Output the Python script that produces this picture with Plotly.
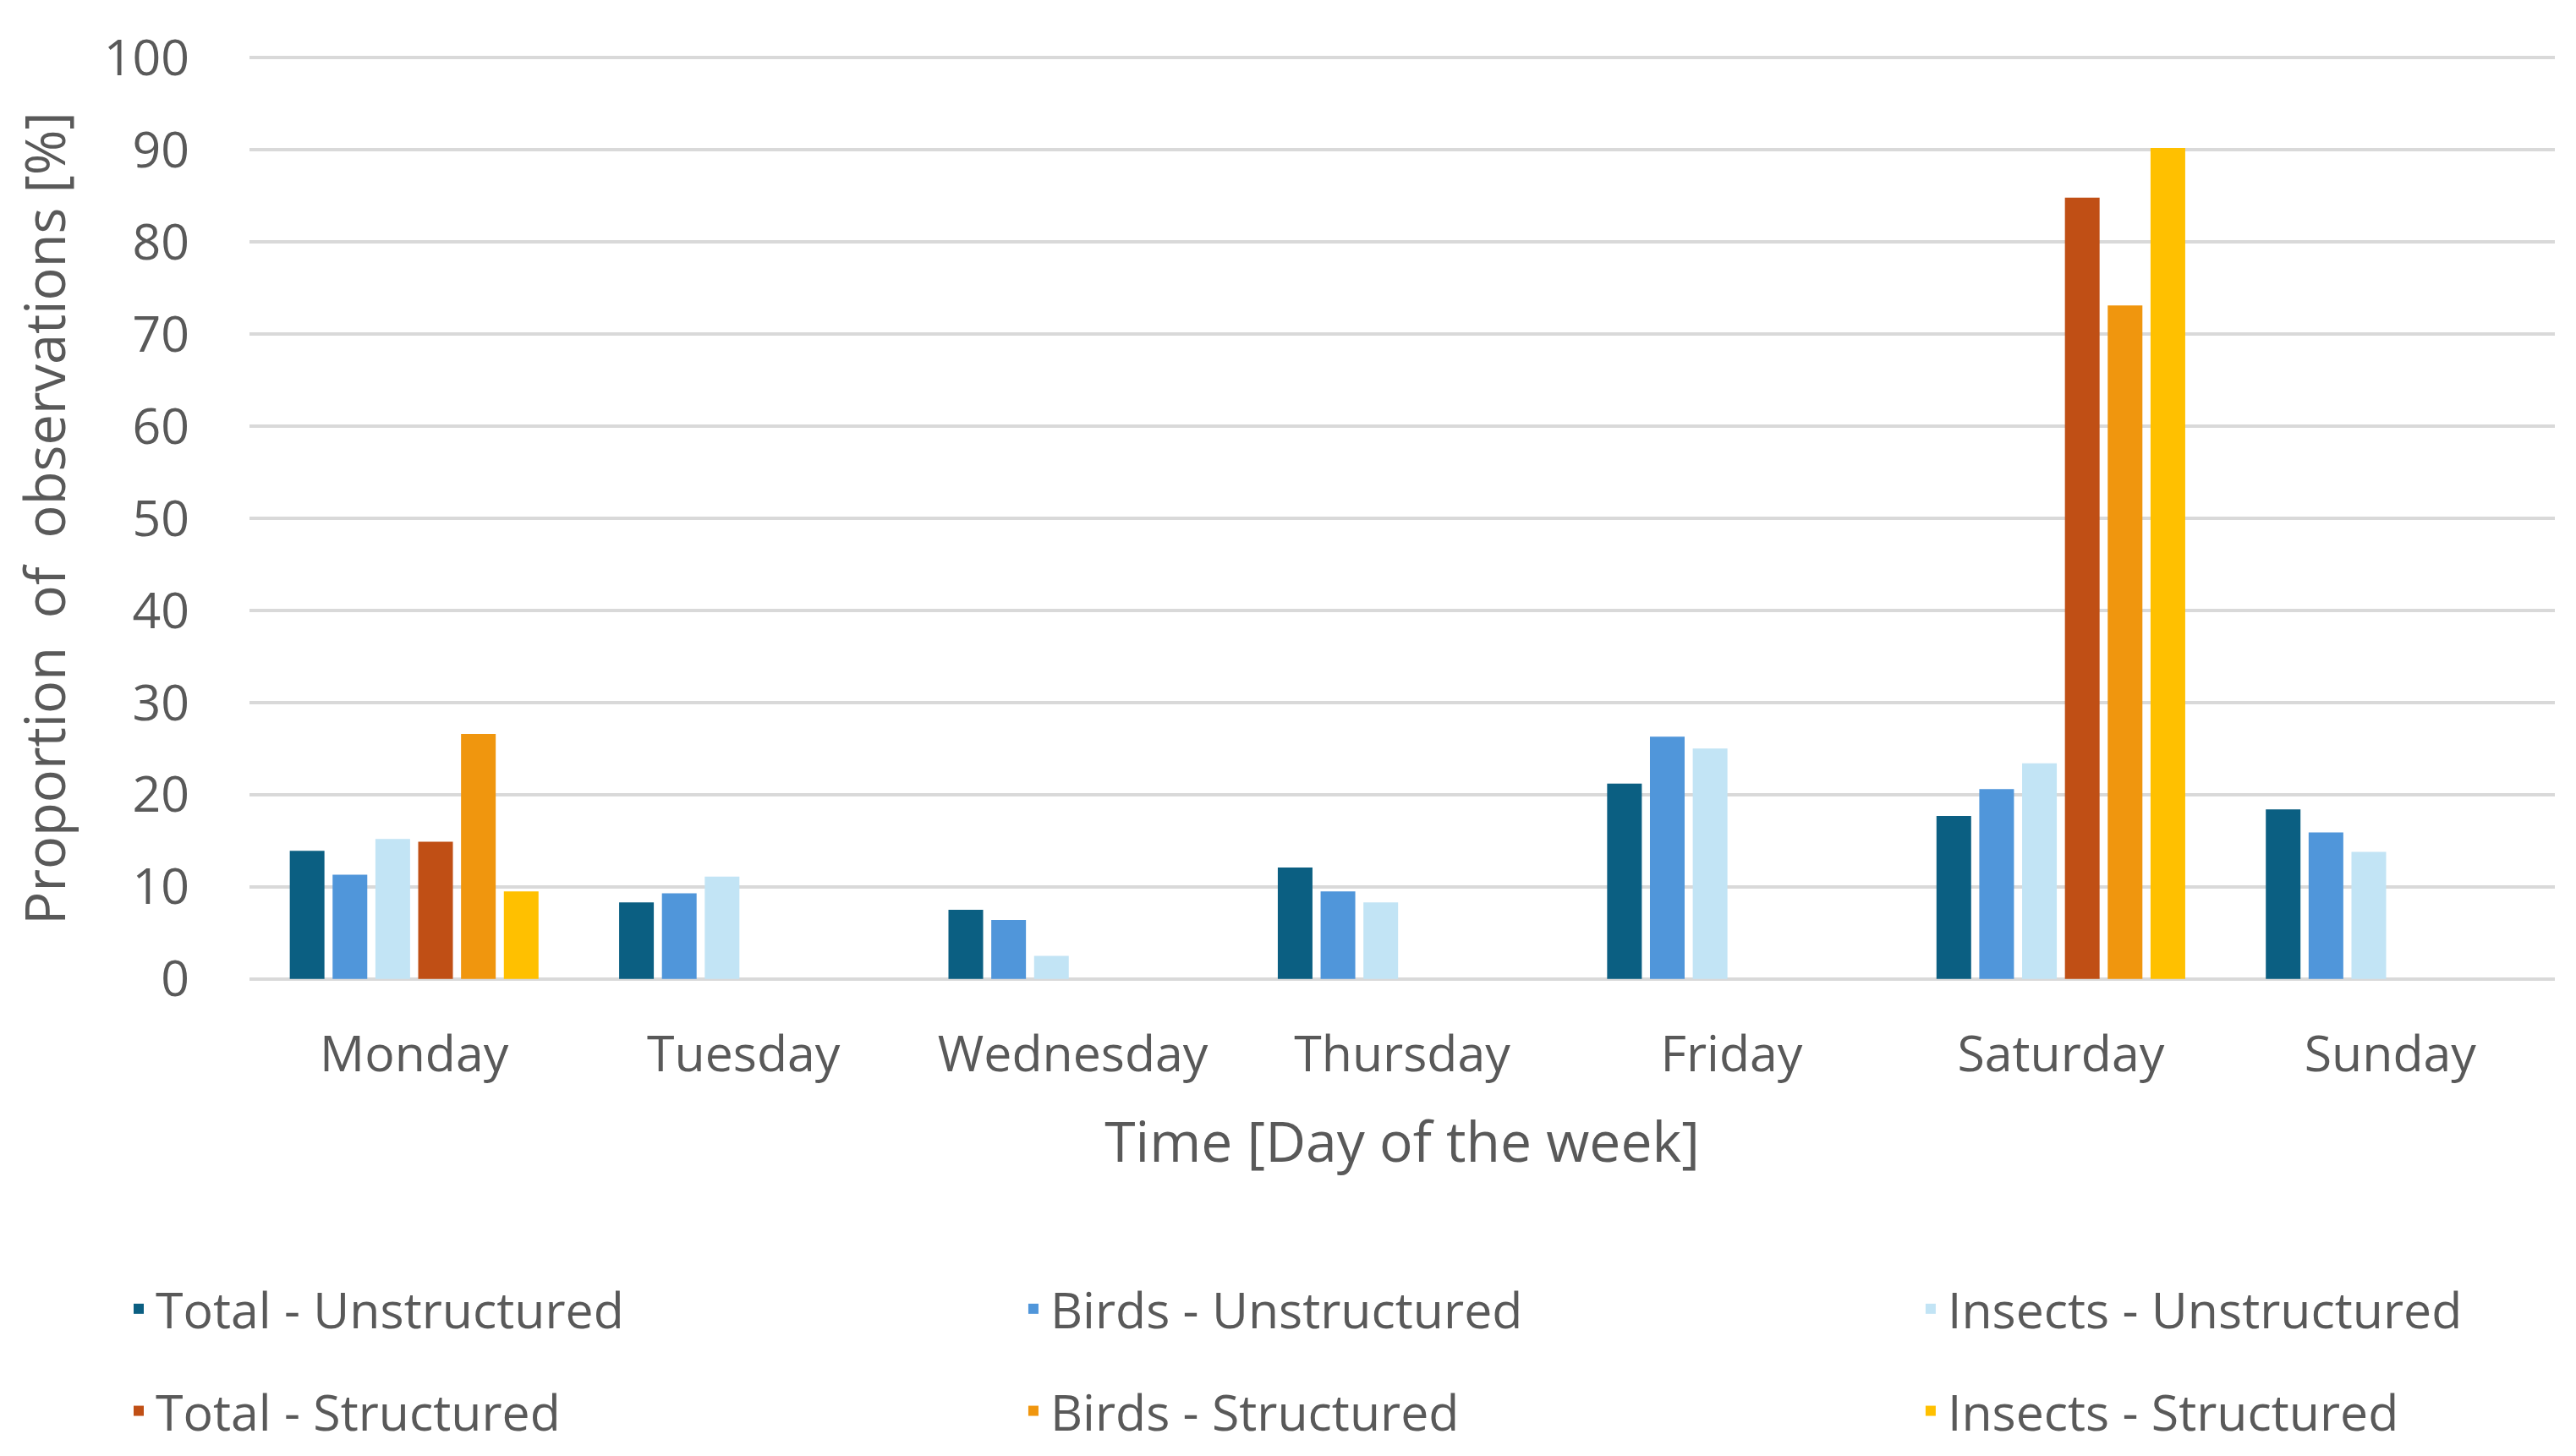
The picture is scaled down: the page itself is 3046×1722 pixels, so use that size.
import plotly.graph_objects as go

days = ["Monday", "Tuesday", "Wednesday", "Thursday", "Friday", "Saturday", "Sunday"]

total_unstructured = [13.9, 8.3, 7.5, 12.1, 21.2, 17.7, 18.4]
birds_unstructured = [11.3, 9.3, 6.4, 9.5, 26.3, 20.6, 15.9]
insects_unstructured = [15.2, 11.1, 2.5, 8.3, 25.0, 23.4, 13.8]
total_structured = [14.9, None, None, None, None, 84.8, None]
birds_structured = [26.6, None, None, None, None, 73.1, None]
insects_structured = [9.5, None, None, None, None, 90.2, None]

# one legend per column (Total / Birds / Insects), Unstructured on top
series = [
    ("Total - Unstructured", total_unstructured, "#0B5F82", "legend"),
    ("Birds - Unstructured", birds_unstructured, "#5096DA", "legend2"),
    ("Insects - Unstructured", insects_unstructured, "#C2E4F5", "legend3"),
    ("Total - Structured", total_structured, "#C04F15", "legend"),
    ("Birds - Structured", birds_structured, "#F0960E", "legend2"),
    ("Insects - Structured", insects_structured, "#FFC000", "legend3"),
]

FONT = "Open Sans"
GREY = "#595959"

fig = go.Figure()
for name, vals, color, leg in series:
    fig.add_trace(go.Bar(
        x=days, y=vals, name=name,
        marker=dict(color=color, line=dict(width=0)),
        legend=leg, legendgroup=name,
    ))

legend_common = dict(
    orientation="v",
    y=-0.4083, yanchor="middle",
    xanchor="left",
    tracegroupgap=41,
    font=dict(family=FONT, size=59, color=GREY),
    bgcolor="rgba(0,0,0,0)",
    itemclick=False,
)

fig.update_layout(
    width=3046, height=1722,
    barmode="group",
    bargap=0.22,
    bargroupgap=0.19,
    plot_bgcolor="white",
    paper_bgcolor="white",
    font=dict(family=FONT, size=59, color=GREY),
    margin=dict(l=287, r=33, t=57, b=569),
    legend=dict(x=-0.0554, **legend_common),
    legend2=dict(x=0.3327, **legend_common),
    legend3=dict(x=0.7219, **legend_common),
)

fig.update_yaxes(
    range=[-0.3, 100.3], tickvals=list(range(0, 101, 10)),
    showgrid=True, gridcolor="#D9D9D9", gridwidth=4,
    zeroline=False, showline=False,
    ticks="", ticklabelstandoff=70,
    tickfont=dict(family=FONT, size=59, color=GREY),
    title=dict(text="Proportion  of  observations [%]",
               font=dict(family=FONT, size=65, color=GREY), standoff=40),
)
fig.update_xaxes(
    showgrid=False, zeroline=False, showline=False,
    ticks="", ticklabelstandoff=46,
    tickfont=dict(family=FONT, size=59, color=GREY),
    title=dict(text="Time [Day of the week]",
               font=dict(family=FONT, size=66, color=GREY), standoff=44),
)

fig.write_html("out.html")
